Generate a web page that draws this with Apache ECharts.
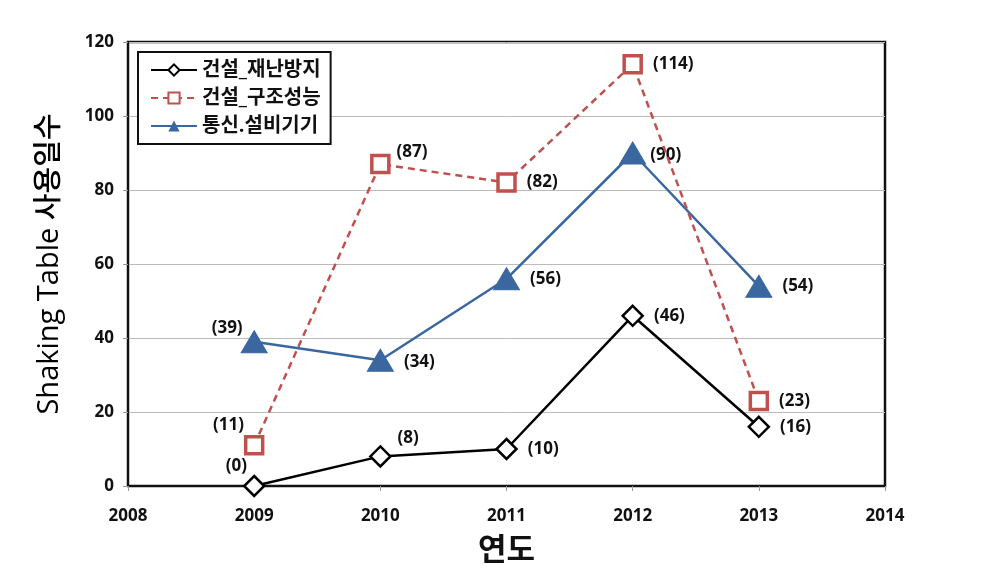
<!DOCTYPE html>
<html><head><meta charset="utf-8">
<script src="https://cdn.jsdelivr.net/npm/echarts@6/dist/echarts.min.js"></script>
<style>html,body{margin:0;padding:0;background:#fff}#c{width:1001px;height:574px}</style>
</head><body><div id="c"></div>
<script>
const years = [2009, 2010, 2011, 2012, 2013];
const disaster = [0, 8, 10, 46, 16];
const structure = [11, 87, 82, 114, 23];
const telecom = [39, 34, 56, 90, 54];
const seriesNames = ['건설_재난방지', '건설_구조성능', '통신.설비기기'];
const xTicks = [2008, 2009, 2010, 2011, 2012, 2013, 2014];

const FONT = '"Open Sans","Noto Sans CJK KR",sans-serif';
// label placement per series/point (styling only)
const labelPos = [
  [{position:'left',offset:[14,-20]}, {position:'right',offset:[-4,-18]}, {position:'right'}, {position:'right'}, {position:'right'}],
  [{position:'left',offset:[10,-20]}, {position:'right',offset:[-4,-12]}, {position:'right'}, {position:'right'}, {position:'right'}],
  [{position:'left',offset:[12,-14]}, {position:'right',offset:[0,2]}, {position:'right'}, {position:'right',offset:[-6,2]}, {position:'right'}]
];
function mk(vals, si){
  return years.map((y,i)=>({value:[y, vals[i]], label:Object.assign({}, labelPos[si][i])}));
}
const lbl = {show:true, formatter:p=>'('+p.value[1]+')', fontFamily:FONT, fontWeight:'bold', fontSize:17, color:'#111', distance:10};

const chart = echarts.init(document.getElementById('c'), null, {renderer:'canvas'});
chart.setOption({
  animation:false,
  backgroundColor:'#fff',
  grid:{left:128, right:116, top:42, bottom:88, show:true, borderColor:'#111', borderWidth:2.5, backgroundColor:'transparent', containLabel:false, outerBoundsMode:'none'},
  legend:{
    left:138, top:52, orient:'vertical', itemGap:8, itemWidth:46, itemHeight:14,
    padding:[8,10,8,12], borderColor:'#111', borderWidth:2, backgroundColor:'#fff',
    textStyle:{fontFamily:FONT, fontSize:20, fontWeight:'bold', color:'#111'},
    data:seriesNames
  },
  xAxis:{
    type:'value', min:2008, max:2014, interval:1,
    name:'연도', nameLocation:'middle', nameGap:50,
    nameTextStyle:{fontFamily:FONT, fontSize:31, fontWeight:'bold', color:'#111'},
    axisLine:{show:true, lineStyle:{color:'#111', width:2}},
    axisTick:{show:true, length:5, lineStyle:{color:'#999'}},
    splitLine:{show:false},
    axisLabel:{fontFamily:FONT, fontSize:17, fontWeight:'bold', color:'#111', margin:22, formatter:v=>xTicks.includes(v)?String(v):''}
  },
  yAxis:{
    type:'value', min:0, max:120, interval:20,
    name:'Shaking Table 사용일수', nameLocation:'middle', nameGap:64, nameRotate:90,
    nameTextStyle:{fontFamily:FONT, fontSize:29, fontWeight:500, color:'#000'},
    axisLine:{show:true, lineStyle:{color:'#111', width:2}},
    axisTick:{show:true, length:5, lineStyle:{color:'#999'}},
    splitLine:{show:true, lineStyle:{color:'#bbb', width:1}},
    axisLabel:{fontFamily:FONT, fontSize:17, fontWeight:'bold', color:'#111', margin:14}
  },
  series:[
    {name:seriesNames[0], type:'line', data:mk(disaster,0), symbol:'diamond', symbolSize:20,
     lineStyle:{color:'#000', width:2.5}, itemStyle:{color:'#fff', borderColor:'#000', borderWidth:2.5},
     label:lbl, z:3},
    {name:seriesNames[1], type:'line', data:mk(structure,1), symbol:'rect', symbolSize:17,
     lineStyle:{color:'#c0504d', width:2.5, type:[7,5]}, itemStyle:{color:'#fff', borderColor:'#c0504d', borderWidth:3.5},
     label:lbl, z:4},
    {name:seriesNames[2], type:'line', data:mk(telecom,2), symbol:'triangle', symbolSize:[26,22],
     lineStyle:{color:'#3a67a0', width:2.5}, itemStyle:{color:'#3a67a0', borderColor:'#3a67a0'},
     label:lbl, z:2}
  ]
});
</script></body></html>
